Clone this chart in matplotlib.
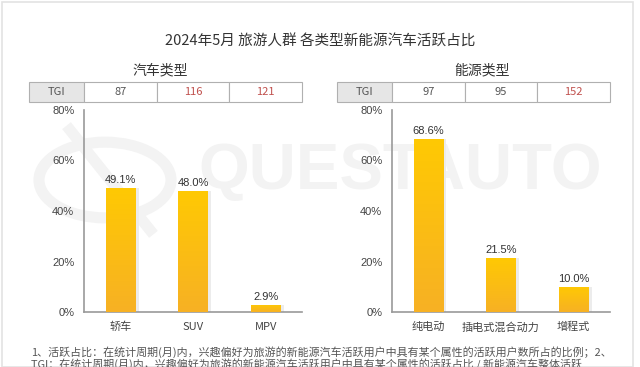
import matplotlib.pyplot as plt
import numpy as np
from matplotlib.patches import Rectangle, Circle
from matplotlib.colors import LinearSegmentedColormap
from matplotlib.transforms import blended_transform_factory

plt.rcParams['font.family'] = ['Liberation Sans', 'Noto Sans CJK SC', 'DejaVu Sans']

title = "2024年5月 旅游人群 各类型新能源汽车活跃占比"
car_title = "汽车类型"
car_types = ["轿车", "SUV", "MPV"]
car_share = [49.1, 48.0, 2.9]
car_tgi = [87, 116, 121]
energy_title = "能源类型"
energy_types = ["纯电动", "插电式混合动力", "增程式"]
energy_share = [68.6, 21.5, 10.0]
energy_tgi = [97, 95, 152]
yticks = [0, 20, 40, 60, 80]
note1 = "1、活跃占比：在统计周期(月)内，兴趣偏好为旅游的新能源汽车活跃用户中具有某个属性的活跃用户数所占的比例；2、"
note2 = "TGI：在统计周期(月)内，兴趣偏好为旅游的新能源汽车活跃用户中具有某个属性的活跃占比 / 新能源汽车整体活跃"

W, H = 640, 367
fig = plt.figure(figsize=(6.4, 3.67), dpi=100)
cjk = ['Noto Sans CJK SC', 'DejaVu Sans']

# frame
fig.patches.append(Rectangle((1.5 / W, 0), (633 - 1.5) / W, 1 - 1.5 / H, transform=fig.transFigure,
                             fill=False, edgecolor='#e3e3e3', lw=1.2))

# watermark
wm = '#f3f3f3'
fig.text(400 / W, 1 - 172 / H, "QUESTAUTO", fontsize=47, fontweight='bold', color=wm,
         ha='center', va='center', zorder=-1)
fig.patches.append(Circle((105 / W, 1 - 180 / H), 66 / W, transform=fig.transFigure,
                          fill=False, edgecolor=wm, lw=8, zorder=-1))
fig.lines.append(plt.Line2D([70 / W, 150 / W], [1 - 130 / H, 1 - 230 / H], transform=fig.transFigure,
                            color=wm, lw=8, zorder=-1))

fig.text(0.5, 1 - 42 / H, title, fontsize=10.5, ha='center', va='center', color='#333333', family=cjk)
fig.text(160 / W, 1 - 70 / H, car_title, fontsize=10, ha='center', va='center', color='#333333', family=cjk)
fig.text(482 / W, 1 - 70 / H, energy_title, fontsize=10, ha='center', va='center', color='#333333', family=cjk)

fig.text(31 / W, 1 - 352 / H, note1, fontsize=7.9, ha='left', va='center', color='#555555', family=cjk)
fig.text(31 / W, 1 - 365 / H, note2, fontsize=7.9, ha='left', va='center', color='#555555', family=cjk)

grad = np.linspace(0, 1, 100).reshape(-1, 1)
cmap = LinearSegmentedColormap.from_list('bar', ['#f7b124', '#ffc903'])


def panel(left_px, cats, vals, tgi):
    ax = fig.add_axes([left_px / W, 1 - 312 / H, 218 / W, 202 / H])
    ax.patch.set_alpha(0)
    x = np.arange(len(cats))
    # soft shadow
    ax.bar(x + 0.04, vals, width=0.42, color='#ececec', zorder=1)
    bars = ax.bar(x, vals, width=0.4, color='#fdbf12', zorder=2)
    for b, v in zip(bars, vals):
        im = ax.imshow(grad, cmap=cmap, aspect='auto', zorder=3,
                       extent=(b.get_x(), b.get_x() + b.get_width(), 0, v), origin='lower')
        im.set_clip_path(b)
        ax.annotate(f"{v:.1f}%", (b.get_x() + b.get_width() / 2, v), xytext=(0, 2),
                    textcoords='offset points', ha='center', va='bottom', fontsize=8, color='#333333')
    ax.set_xlim(-0.5, len(cats) - 0.5)
    ax.set_ylim(0, 80)
    ax.set_yticks(yticks)
    ax.set_yticklabels([f"{t}%" for t in yticks])
    ax.set_xticks(x)
    ax.set_xticklabels(cats, family=cjk)
    ax.tick_params(length=0, labelsize=8, colors='#444444')
    ax.tick_params(axis='x', pad=7)
    ax.tick_params(axis='y', pad=7)
    for s in ['top', 'right']:
        ax.spines[s].set_visible(False)
    for s in ['left', 'bottom']:
        ax.spines[s].set_color('#999999')
        ax.spines[s].set_linewidth(1.2)

    # TGI table
    tr = blended_transform_factory(ax.transData, ax.transAxes)
    y0, y1 = (312 - 102) / 202, (312 - 82) / 202
    unit = 218 / len(cats)
    lx = -0.5 - 55 / unit
    ax.add_patch(Rectangle((lx, y0), -0.5 - lx, y1 - y0, transform=tr, clip_on=False,
                           facecolor='#e6e6e6', edgecolor='#b0b0b0', lw=0.8))
    ax.text((lx - 0.5) / 2, (y0 + y1) / 2, "TGI", transform=tr, ha='center', va='center',
            fontsize=8, color='#555555', family=cjk)
    for i, t in enumerate(tgi):
        ax.add_patch(Rectangle((i - 0.5, y0), 1, y1 - y0, transform=tr, clip_on=False,
                               facecolor='white', edgecolor='#b0b0b0', lw=0.8))
        ax.text(i, (y0 + y1) / 2, str(t), transform=tr, ha='center', va='center', fontsize=8,
                color='#c0504d' if t > 100 else '#555555', family=cjk)
    return ax


panel(84, car_types, car_share, car_tgi)
panel(392, energy_types, energy_share, energy_tgi)

fig.savefig('out.png', dpi=100)
